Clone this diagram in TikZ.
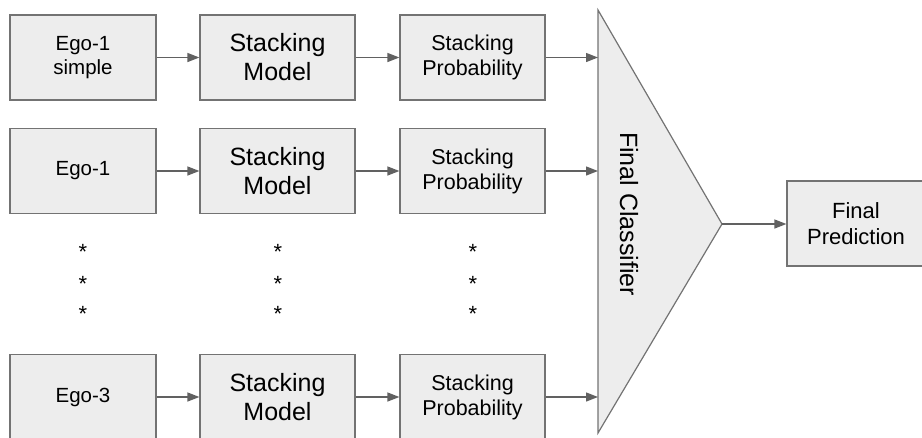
\documentclass[tikz,border=0pt]{standalone}
\usepackage{fontspec}
\setmainfont{Liberation Sans}
\usetikzlibrary{positioning,calc,arrows.meta}

\tikzset{
    blockbox/.style={draw=black!55, fill=black!7, line width=1.2pt, align=center, inner sep=0pt, minimum height=85pt},
    link/.style={draw=black!62, line width=1.3pt, -{Triangle[length=12pt,width=9pt]}},
    dotmark/.style={font=\fontsize{22}{22}\selectfont, inner sep=0pt, anchor=base}
}

\begin{document}
\begin{tikzpicture}[x=1pt,y=-1pt]
    \useasboundingbox (0,0) rectangle (922,437);

    % Rows of inputs
    \foreach \r/\y/\name in {1/57.5/{Ego-1\\simple}, 2/171/{Ego-1}, 3/397/{Ego-3}} {
        \node [blockbox, minimum width=146pt, font=\fontsize{20.5}{24.7}\selectfont] (ego\r) at (83,\y) {\name};
        \node [blockbox, minimum width=155pt, font=\fontsize{25}{29}\selectfont] (model\r) at (277.5,\y) {Stacking\\Model};
        \node [blockbox, minimum width=145pt, font=\fontsize{21.5}{25}\selectfont] (prob\r) at (472.5,\y) {Stacking\\Probability};
        \draw [link] (ego\r) -- (model\r);
        \draw [link] (model\r) -- (prob\r);
    }

    % Dots between rows
    \foreach \x in {83,278,473}
        \foreach \y in {247,279,309}
            \node [dotmark] (dot-\x-\y) at (\x,{\y+12.5}) {*};

    % Final Classifier
    \draw [draw=black!55, fill=black!7, line width=1.2pt] (598,10) coordinate (clstop) -- (722,224) coordinate (clstip) -- (598,433) coordinate (clsbot) -- cycle;
    \node [rotate=-90, font=\fontsize{25}{28}\selectfont] (clslabel) at (629,214) {Final Classifier};

    \foreach \r in {1,2,3}
        \draw [link] (prob\r.east) -- (prob\r.east -| clstop);

    % Output
    \node [blockbox, minimum width=138pt, font=\fontsize{22}{25.5}\selectfont] (final) at (856,223.5) {Final\\Prediction};
    \draw [link] (clstip) -- (final.west |- clstip);

\end{tikzpicture}
\end{document}
